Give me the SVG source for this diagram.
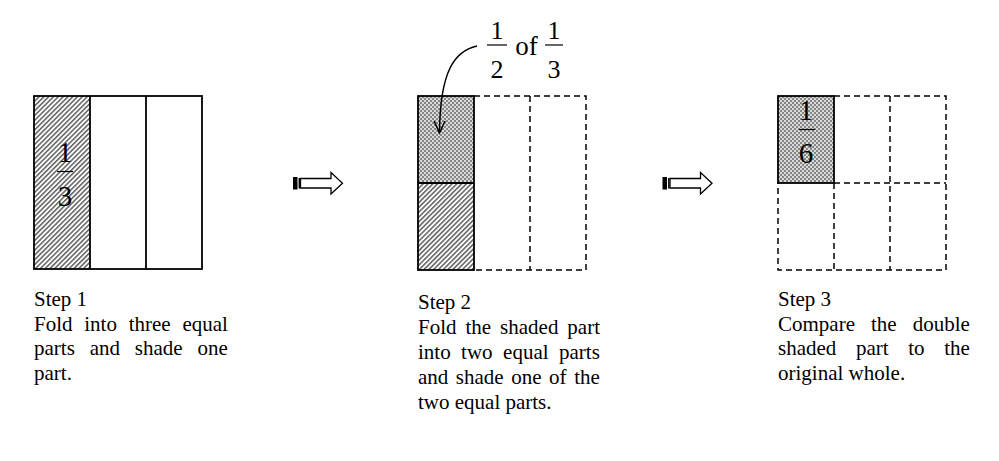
<svg xmlns="http://www.w3.org/2000/svg" width="999" height="461" viewBox="0 0 999 461">
<style>
  .t { font-family: "Liberation Serif", "Times New Roman", serif; font-size: 21px; fill: #000; }
  .f { font-family: "Liberation Serif", "Times New Roman", serif; fill: #000; text-anchor: middle; }
  .solid { fill: none; stroke: #000; stroke-width: 1.8; }
  .dash { fill: none; stroke: #000; stroke-width: 1.5; stroke-dasharray: 6 4; }
  .bar { stroke: #000; stroke-width: 1.2; }
  .blk { fill: #fff; stroke: #000; stroke-width: 1.3; stroke-linejoin: miter; }
</style>
<defs>
  <pattern id="hatch" patternUnits="userSpaceOnUse" width="3.4" height="3.4" patternTransform="rotate(45)">
    <rect width="3.4" height="3.4" fill="#fff"/>
    <line x1="0.8" y1="0" x2="0.8" y2="3.4" stroke="#444" stroke-width="1.3"/>
  </pattern>
  <pattern id="dots" patternUnits="userSpaceOnUse" width="4" height="4">
    <rect width="4" height="4" fill="#858585"/>
    <circle cx="1" cy="1" r="0.95" fill="#fff"/>
    <circle cx="3" cy="3" r="0.95" fill="#fff"/>
  </pattern>
  <marker id="vhead" markerWidth="16" markerHeight="16" refX="12" refY="6" orient="auto" markerUnits="userSpaceOnUse">
    <path d="M0,0.5 L12,6 L0,11.5" fill="none" stroke="#000" stroke-width="1.5"/>
  </marker>
</defs>

<g id="step1">
  <rect x="34" y="96" width="56" height="173" fill="url(#hatch)"/>
  <rect class="solid" x="34" y="96" width="168" height="173"/>
  <line class="solid" x1="90" y1="96" x2="90" y2="269"/>
  <line class="solid" x1="146" y1="96" x2="146" y2="269"/>
  <text class="f" x="65" y="162" font-size="29">1</text>
  <line class="bar" x1="57" y1="171.5" x2="73" y2="171.5"/>
  <text class="f" x="65" y="206" font-size="29">3</text>
  <text class="t" x="34" y="306">Step 1</text>
  <text class="t" x="34" y="331" word-spacing="6.5">Fold into three equal</text>
  <text class="t" x="34" y="355" word-spacing="9.6">parts and shade one</text>
  <text class="t" x="34" y="380">part.</text>
</g>

<g id="step2">
  <rect x="418" y="96" width="56" height="87" fill="url(#dots)"/>
  <rect x="418" y="183" width="56" height="87" fill="url(#hatch)"/>
  <path class="dash" d="M474,96 H586 V270 H474"/>
  <line class="dash" x1="530" y1="96" x2="530" y2="270"/>
  <rect class="solid" x="418" y="96" width="56" height="174"/>
  <line class="solid" x1="418" y1="183" x2="474" y2="183"/>
  <text class="t" x="418" y="309">Step 2</text>
  <text class="t" x="418" y="334" word-spacing="3.7">Fold the shaded part</text>
  <text class="t" x="418" y="359" word-spacing="5.2">into two equal parts</text>
  <text class="t" x="418" y="384" word-spacing="2.3">and shade one of the</text>
  <text class="t" x="418" y="409">two equal parts.</text>
</g>

<g id="label-half-of-third">
  <text class="f" x="497" y="39" font-size="26">1</text>
  <line class="bar" x1="487" y1="45" x2="507" y2="45"/>
  <text class="f" x="497" y="78" font-size="26">2</text>
  <text class="f" x="526.5" y="55" font-size="27">of</text>
  <text class="f" x="554" y="39" font-size="26">1</text>
  <line class="bar" x1="545" y1="45" x2="563" y2="45"/>
  <text class="f" x="554" y="78" font-size="26">3</text>
</g>

<g id="step3">
  <rect x="778" y="96" width="56" height="87" fill="url(#dots)"/>
  <path class="dash" d="M834,96 H946 V270 H778 V183"/>
  <line class="dash" x1="890" y1="96" x2="890" y2="270"/>
  <line class="dash" x1="834" y1="183" x2="834" y2="270"/>
  <line class="dash" x1="834" y1="183" x2="946" y2="183"/>
  <rect class="solid" x="778" y="96" width="56" height="87"/>
  <text class="f" x="806" y="120" font-size="29">1</text>
  <line class="bar" x1="799" y1="129.5" x2="815" y2="129.5"/>
  <text class="f" x="806" y="162.5" font-size="29">6</text>
  <text class="t" x="778" y="306">Step 3</text>
  <text class="t" x="778" y="331" word-spacing="10.8">Compare the double</text>
  <text class="t" x="778" y="355" word-spacing="14.4">shaded part to the</text>
  <text class="t" x="778" y="380">original whole.</text>
</g>

<g id="connectors">
  <path d="M477,46 C455,51 440,70 439.5,133" fill="none" stroke="#000" stroke-width="1.5" marker-end="url(#vhead)"/>
  <g id="arrow1">
    <rect x="293" y="177" width="4.5" height="12.5" fill="#000"/>
    <line x1="299.3" y1="178" x2="299.3" y2="188.5" stroke="#000" stroke-width="1.4"/>
    <path class="blk" d="M300.5,178.5 H331 V172.5 L342.5,183.3 L331,194 V188 H300.5 Z"/>
  </g>
  <g id="arrow2">
    <rect x="662.5" y="177" width="4.5" height="12.5" fill="#000"/>
    <line x1="668.8" y1="178" x2="668.8" y2="188.5" stroke="#000" stroke-width="1.4"/>
    <path class="blk" d="M670,178.5 H700.5 V172.5 L712,183.3 L700.5,194 V188 H670 Z"/>
  </g>
</g>
</svg>
